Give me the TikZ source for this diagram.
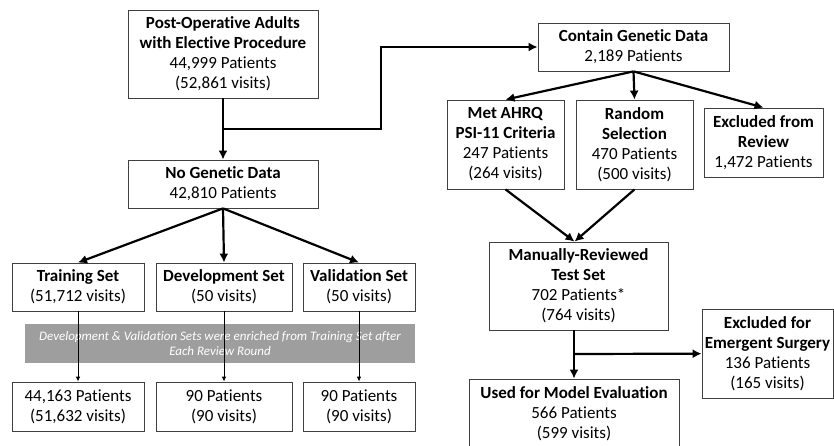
\documentclass[tikz,border=0pt]{standalone}
\usepackage{fontspec}
\setmainfont{Carlito}[Ligatures={NoCommon}]
\usetikzlibrary{arrows.meta}

\begin{document}
\begin{tikzpicture}[x=1pt,y=-1pt,
  box/.style={draw=black!75, line width=0.8pt, align=center, inner sep=0pt,
    font=\fontsize{17}{20}\selectfont},
  arr/.style={-{Latex[length=9pt,width=9pt]}, line width=2.2pt},
  thinarr/.style={-{Latex[length=5pt,width=4.5pt]}, line width=0.9pt},
  band/.style={fill=black!38, text=white, align=center, inner sep=0pt,
    font=\fontsize{13}{15}\selectfont\itshape}]
  \fill[white] (0,0) rectangle (834,446);
  \useasboundingbox (0,0) rectangle (834,446);

  % cohort
  \node[box, minimum width=190pt, minimum height=88pt] (post) at (223,54)
    {\textbf{Post-Operative Adults}\\ \textbf{with Elective Procedure}\\ 44,999 Patients\\ (52,861 visits)};
  \node[box, minimum width=190pt, minimum height=48pt] (nogen) at (223,184)
    {\textbf{No Genetic Data}\\ 42,810 Patients};
  \node[box, minimum width=191pt, minimum height=48pt] (gen) at (633.5,47)
    {\textbf{Contain Genetic Data}\\ 2,189 Patients};

  % genetic branch
  \node[box, minimum width=117pt, minimum height=89pt] (ahrq) at (505.5,144.5)
    {\textbf{Met AHRQ}\\ \textbf{PSI-11 Criteria}\\ 247 Patients\\ (264 visits)};
  \node[box, minimum width=117pt, minimum height=89pt] (rand) at (634.5,144.5)
    {\textbf{Random}\\ \textbf{Selection}\\ 470 Patients\\ (500 visits)};
  \node[box, minimum width=119pt, minimum height=69pt] (exrev) at (763.5,142.5)
    {\textbf{Excluded from}\\ \textbf{Review}\\ 1,472 Patients};
  \node[box, minimum width=179pt, minimum height=88pt] (test) at (578.5,286)
    {\textbf{Manually-Reviewed}\\ \textbf{Test Set}\\ 702 Patients*\\ (764 visits)};
  \node[box, minimum width=131pt, minimum height=89pt] (exemg) at (767.5,353.5)
    {\textbf{Excluded for}\\ \textbf{Emergent Surgery}\\ 136 Patients\\ (165 visits)};
  \node[box, minimum width=210pt, minimum height=70pt] (evalset) at (574,414)
    {\textbf{Used for Model Evaluation}\\ 566 Patients\\ (599 visits)};

  % no genetic branch
  \node[box, minimum width=132pt, minimum height=48pt] (train) at (78,287)
    {\textbf{Training Set}\\ (51,712 visits)};
  \node[box, minimum width=136pt, minimum height=48pt] (dev) at (224,287)
    {\textbf{Development Set}\\ (50 visits)};
  \node[box, minimum width=112pt, minimum height=48pt] (val) at (359,287)
    {\textbf{Validation Set}\\ (50 visits)};
  \node[box, minimum width=132pt, minimum height=49pt] (train2) at (78,406.5)
    {44,163 Patients\\ (51,632 visits)};
  \node[box, minimum width=136pt, minimum height=49pt] (dev2) at (224,406.5)
    {90 Patients\\ (90 visits)};
  \node[box, minimum width=112pt, minimum height=49pt] (val2) at (359,406.5)
    {90 Patients\\ (90 visits)};
  \node[band, minimum width=390pt, minimum height=39pt] (enrich) at (220,343.5)
    {Development \& Validation Sets were enriched from Training Set after\\ Each Review Round};

  % connectors
  \coordinate (split) at (223,129);
  \coordinate (turn) at (381,129);
  \draw[arr] (post) -- (nogen);
  \draw[arr] (split) -- (turn) |- (gen);
  \draw[arr] (nogen.south) -- (train.north);
  \draw[arr] (nogen.south) -- (dev.north);
  \draw[arr] (nogen.south) -- (val.north);
  \draw[thinarr] (train) -- (train2);
  \draw[thinarr] (dev) -- (dev2);
  \draw[thinarr] (val) -- (val2);

  \draw[arr] (gen.south) -- (ahrq.north);
  \draw[arr] (gen.south) -- (rand.north);
  \draw[arr] (gen.south) -- (exrev.north);
  \draw[arr] (ahrq.south) -- ([xshift=-4pt]test.north);
  \draw[arr] (rand.south) -- ([xshift=-4pt]test.north);

  \coordinate (split2) at (574,354);
  \draw[arr] (evalset.north |- test.south) -- (evalset.north);
  \draw[arr] (split2) -- (exemg);
\end{tikzpicture}
\end{document}
